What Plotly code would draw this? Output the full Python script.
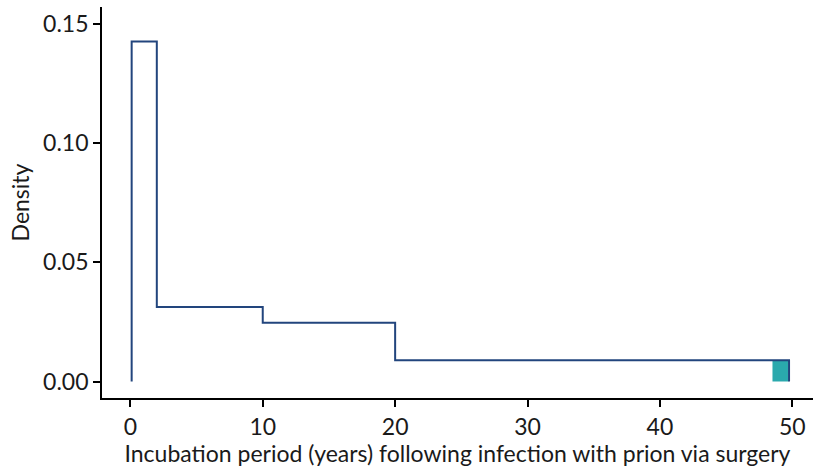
import plotly.graph_objects as go

# Histogram (density) of incubation periods
bin_edges = [0.1, 2.0, 10.0, 20.0, 49.75]
densities = [0.1426, 0.0313, 0.0246, 0.0089]

# Highlighted teal region near the end
highlight_x = [48.5, 49.7]
highlight_height = 0.0089

x_ticks = [0, 10, 20, 30, 40, 50]
y_ticks = [0.00, 0.05, 0.10, 0.15]

line_color = "#22457d"
teal_color = "#2aa9ad"

# Step outline
step_x = [bin_edges[0]] + bin_edges
step_y = [0] + densities + [0]

fig = go.Figure()
fig.add_trace(go.Scatter(
    x=[highlight_x[0], highlight_x[1], highlight_x[1], highlight_x[0], highlight_x[0]],
    y=[0, 0, highlight_height, highlight_height, 0],
    fill="toself", fillcolor=teal_color, line=dict(width=0),
    mode="lines", hoverinfo="skip", showlegend=False,
))
fig.add_trace(go.Scatter(
    x=step_x, y=step_y, mode="lines", line_shape="hv",
    line=dict(color=line_color, width=2), showlegend=False,
))

font = dict(family="Lato", size=23, color="#1a1a1a")
fig.update_layout(
    width=813, height=471,
    margin=dict(l=102, r=0, t=7, b=73),
    paper_bgcolor="white", plot_bgcolor="white",
    font=font,
    xaxis=dict(
        range=[-2.14, 51.56], tickvals=x_ticks, ticks="outside", ticklen=7,
        tickwidth=1.5, tickcolor="black", showline=True, linecolor="black",
        linewidth=1.8, showgrid=False, zeroline=False, automargin=False,
        title=dict(text="Incubation period (years) following infection with prion via surgery",
                   standoff=3, font=font),
        tickfont=font,
    ),
    yaxis=dict(
        range=[-0.00692, 0.1571], tickvals=y_ticks, tickformat=".2f",
        ticks="outside", ticklen=7, tickwidth=1.5, tickcolor="black",
        showline=True, linecolor="black", linewidth=1.8, showgrid=False,
        zeroline=False, automargin=False,
        title=dict(text="Density", standoff=7, font=font),
        tickfont=font,
    ),
)

fig.write_html(
    "out.html",
    config={"displayModeBar": False},
    post_script="document.body.style.margin='0';document.body.style.overflow='hidden';",
)
